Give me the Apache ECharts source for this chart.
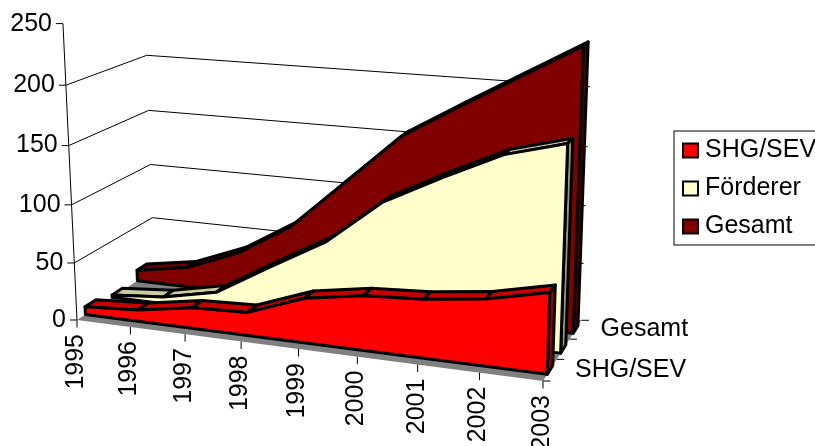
<!DOCTYPE html>
<html>
<head>
<meta charset="utf-8">
<style>html,body{margin:0;padding:0;background:#fff}#c{width:815px;height:446px}</style>
<script src="https://cdn.jsdelivr.net/npm/echarts@6/dist/echarts.min.js"></script>
</head>
<body>
<div id="c"></div>
<script>
const years = ['1995','1996','1997','1998','1999','2000','2001','2002','2003'];
const seriesNames = ['SHG/SEV','Förderer','Gesamt'];
const shg = [7,10,18,20,38,46,49,55,66];
const foerderer = [2,6,16,44,71,110,135,158,171];
const gesamt = [10,18,37,66,110,154,183,211,239];
const valueTicks = [0,50,100,150,200,250];
const depthLabels = ['SHG/SEV','','Gesamt'];

const FONT = '25px "Liberation Sans", Arial, sans-serif';
const faces = [
  {front:'#FF0000', top:'#C40000', side:'#990000'},
  {front:'#FFFFCC', top:'#CCCCA3', side:'#99997A'},
  {front:'#800000', top:'#660000', side:'#4D0000'}
];

// Perspective camera: u = category position, t = value / 50, w = depth row
function project(u, t, w) {
  const d = 1 - 0.01173*u - 0.0094*t + 0.033*w;
  return [
    (77 + 51.88*u - 3.4*t + 30.8*w) / d,
    (320 + 3.156*u - 59.5*t - 7.77*w) / d
  ];
}
// Goes through the library's scales, then through the camera
function at(params, api, cat, val, w) {
  const p = api.coord([cat, val]);
  const r = params.coordSys;
  const u = (p[0]-r.x)/r.width*(years.length-1);
  const t = (r.y+r.height-p[1])/r.height*(valueTicks.length-1);
  return project(u, t, w);
}
const lastCat = years.length-1;
const line = (a,b,w) => ({type:'line', silent:true, shape:{x1:a[0],y1:a[1],x2:b[0],y2:b[1]}, style:{stroke:'#000',lineWidth:w||1}});

function renderFloor(params, api) {
  if (params.dataIndex !== 0) return null;
  const pts = [at(params,api,0,0,0), at(params,api,lastCat,0,0), at(params,api,lastCat,0,3), at(params,api,0,0,3)];
  return {type:'polygon', silent:true, shape:{points:pts}, style:{fill:'#808080'}};
}
function renderValueTick(params, api) {
  const v = api.value(1);
  const a = at(params,api,0,v,0);
  const kids = [line([a[0]-7,a[1]], a)];
  kids.push({type:'text', silent:true, style:{x:a[0]-11, y:a[1], text:String(v), font:FONT, fill:'#000', align:'right', verticalAlign:'middle'}});
  if (v > 0 && v < valueTicks[valueTicks.length-1]) {
    const b = at(params,api,0,v,3), c = at(params,api,lastCat,v,3);
    kids.push(line(a,b), line(b,c));
  }
  if (params.dataIndex === 0) {
    kids.push(line(at(params,api,0,0,0), at(params,api,0,valueTicks[valueTicks.length-1],0)));
  }
  return {type:'group', children:kids};
}
function renderCatTick(params, api) {
  const a = at(params,api,api.value(0),0,0);
  return {type:'group', children:[
    line(a,[a[0],a[1]+7.5]),
    {type:'text', silent:true, rotation:Math.PI/2, x:a[0]-1, y:a[1]+14,
     style:{x:0,y:0,text:years[params.dataIndex], font:FONT, fill:'#000', align:'right', verticalAlign:'middle'}}
  ]};
}
function renderDepth(params, api) {
  const kids = [];
  for (let w=0; w<=depthLabels.length; w++) {
    const a = at(params,api,lastCat,0,w);
    kids.push(line(a,[a[0]+7.5,a[1]]));
  }
  if (params.dataIndex !== 0) return null;
  depthLabels.forEach((s,i)=>{
    if(!s) return;
    const m = at(params,api,lastCat,0,i+0.5);
    kids.push({type:'text', silent:true, style:{x:m[0]+25, y:m[1], text:s, font:FONT, fill:'#000', align:'left', verticalAlign:'middle'}});
  });
  return {type:'group', children:kids};
}
function slab(values, row) {
  return function(params, api) {
    if (params.dataIndex !== 0) return null;
    const wF = row+0.3, wB = row+0.7, f = faces[row];
    const stroke = {stroke:'#000', lineWidth:3, lineJoin:'round'};
    const kids = [];
    for (let i=0;i<values.length-1;i++) {
      kids.push({type:'polygon', silent:true, shape:{points:[
        at(params,api,i,values[i],wB), at(params,api,i+1,values[i+1],wB),
        at(params,api,i+1,values[i+1],wF), at(params,api,i,values[i],wF)]},
        style:Object.assign({fill:f.top},stroke)});
    }
    const n = values.length-1;
    kids.push({type:'polygon', silent:true, shape:{points:[
      at(params,api,n,values[n],wF), at(params,api,n,values[n],wB),
      at(params,api,n,0,wB), at(params,api,n,0,wF)]},
      style:Object.assign({fill:f.side},stroke)});
    const frontPts = values.map((v,i)=>at(params,api,i,v,wF));
    frontPts.push(at(params,api,n,0,wF), at(params,api,0,0,wF));
    kids.push({type:'polygon', silent:true, shape:{points:frontPts}, style:Object.assign({fill:f.front},stroke)});
    return {type:'group', children:kids};
  };
}
const pairs = arr => arr.map((v,i)=>[i,v]);
const chart = echarts.init(document.getElementById('c'));
chart.setOption({
  animation:false,
  backgroundColor:'#fff',
  textStyle:{fontFamily:'"Liberation Sans", Arial, sans-serif'},
  grid:{left:77, top:26, width:466, height:294},
  xAxis:{type:'category', data:years, boundaryGap:false, show:false},
  yAxis:{type:'value', min:0, max:250, interval:50, show:false},
  legend:{
    orient:'vertical', left:674, top:131, padding:[7,40,6,8], itemGap:13,
    itemWidth:15, itemHeight:14, icon:'rect',
    data:seriesNames, borderColor:'#000', borderWidth:1,
    selectedMode:false,
    itemStyle:{borderColor:'#000', borderWidth:2},
    textStyle:{fontSize:25, color:'#000', fontFamily:'"Liberation Sans", Arial, sans-serif', padding:[0,0,0,2]}
  },
  series:[
    {type:'custom', z:1, data:pairs(years.map(()=>0)), renderItem:renderFloor, silent:true},
    {type:'custom', z:2, data:valueTicks.map(v=>[0,v]), renderItem:renderValueTick, silent:true},
    {type:'custom', z:2, data:pairs(years.map(()=>0)), renderItem:renderCatTick, silent:true},
    {type:'custom', z:2, data:[[lastCat,0]], renderItem:renderDepth, silent:true},
    {type:'custom', z:3, name:seriesNames[2], data:pairs(gesamt), renderItem:slab(gesamt,2), itemStyle:{color:faces[2].front}, silent:true},
    {type:'custom', z:4, name:seriesNames[1], data:pairs(foerderer), renderItem:slab(foerderer,1), itemStyle:{color:faces[1].front}, silent:true},
    {type:'custom', z:5, name:seriesNames[0], data:pairs(shg), renderItem:slab(shg,0), itemStyle:{color:faces[0].front}, silent:true}
  ]
});
</script>
</body>
</html>
